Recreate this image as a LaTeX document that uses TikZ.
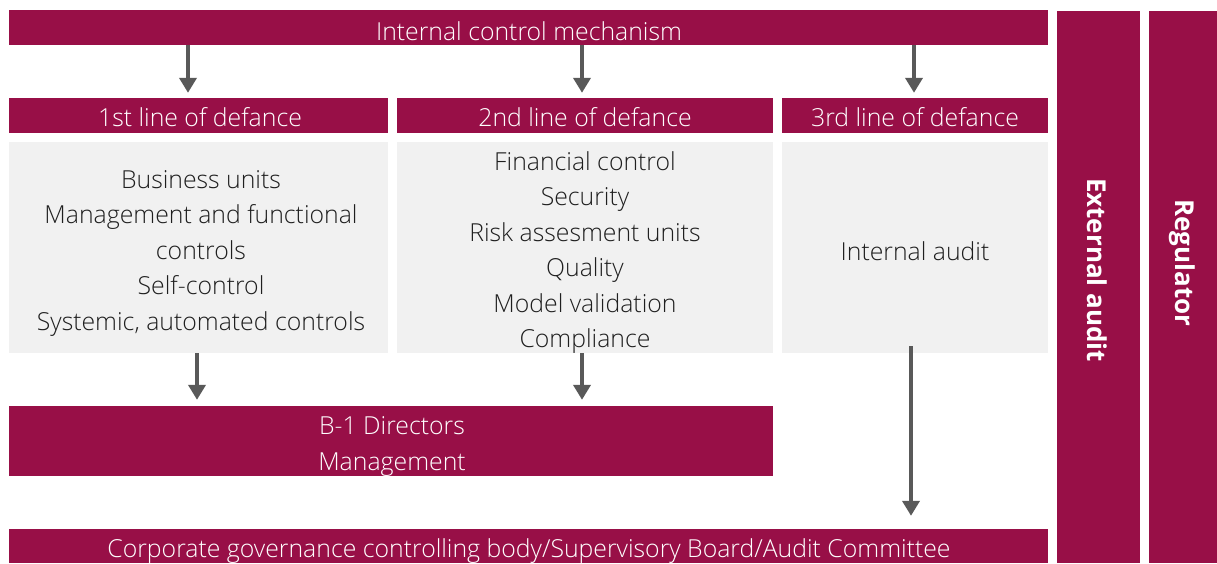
\documentclass[tikz,border=0pt]{standalone}
\usepackage{fontspec}
\IfFontExistsTF{Open Sans Light}{\setmainfont{Open Sans Light}[BoldFont={Open Sans Bold}]}{\setmainfont{Open Sans}}
\newfontfamily\labelfont{Open Sans}
\usetikzlibrary{arrows.meta}
\definecolor{maroon}{HTML}{980F47}
\definecolor{panel}{HTML}{F1F1F1}
\definecolor{arrowgray}{HTML}{595959}
\tikzset{
  bar/.style={fill=maroon, draw=none, inner sep=0pt},
  panelbox/.style={fill=panel, draw=none, inner sep=0pt},
  bartext/.style={text=white, inner sep=0pt, align=center,
    font=\fontsize{24.8}{36}\selectfont},
  paneltext/.style={text=black!88, inner sep=0pt, align=center,
    font=\fontsize{24.8}{35.5}\selectfont},
  sidelabel/.style={text=white, inner sep=0pt, rotate=-90,
    font=\labelfont\fontsize{26}{30}\selectfont\bfseries},
  flow/.style={draw=arrowgray, line width=4pt,
    -{Triangle[width=17pt,length=15pt]}},
}
\begin{document}
\begin{tikzpicture}[x=1pt,y=-1pt]
  \useasboundingbox (0,0) rectangle (1217,563);

  % top bar
  \node[bar, minimum width=1039pt, minimum height=35pt] (icm) at (528.5,27.5) {};
  \node[bartext] (icmt) at (529,31.5) {Internal control mechanism};

  % lines of defence headers
  \node[bar, minimum width=379pt, minimum height=35pt] (h1) at (198.5,115.5) {};
  \node[bar, minimum width=376pt, minimum height=35pt] (h2) at (585,115.5) {};
  \node[bar, minimum width=266pt, minimum height=35pt] (h3) at (915,115.5) {};
  \node[bartext] (h1t) at (200,117.5) {1st line of defance};
  \node[bartext] (h2t) at (585,117.5) {2nd line of defance};
  \node[bartext] (h3t) at (915,117.5) {3rd line of defance};

  % content panels
  \node[panelbox, minimum width=379pt, minimum height=211pt] (p1) at (198.5,247.5) {};
  \node[panelbox, minimum width=376pt, minimum height=211pt] (p2) at (585,247.5) {};
  \node[panelbox, minimum width=266pt, minimum height=211pt] (p3) at (915,247.5) {};
  \node[paneltext] (t1) at (201,253)
    {Business units\\Management and functional\\controls\\Self-control\\Systemic, automated controls};
  \node[paneltext] (t2) at (585,252.5)
    {Financial control\\Security\\Risk assesment units\\Quality\\Model validation\\Compliance};
  \node[paneltext] (t3) at (915,251)
    {Internal audit};

  % management and supervisory body
  \node[bar, minimum width=764pt, minimum height=70pt] (mgmt) at (391,441) {};
  \node[bartext] (mgmtt) at (392,446.5) {B-1 Directors\\Management};
  \node[bar, minimum width=1039pt, minimum height=34pt] (board) at (528.5,546) {};
  \node[bartext] (boardt) at (529,551)
    {Corporate governance controlling body/Supervisory Board/Audit Committee};

  % external columns
  \node[bar, minimum width=83pt, minimum height=552pt] (ext) at (1098.5,287) {};
  \node[bar, minimum width=68pt, minimum height=552pt] (reg) at (1183,287) {};
  \node[sidelabel] (extl) at (1097,270) {External audit};
  \node[sidelabel] (regl) at (1182,263) {Regulator};

  % arrows
  \coordinate (a1) at (188,0);
  \coordinate (a2) at (582,0);
  \coordinate (a3) at (914,0);
  \draw[flow] (icm.south -| a1) -- ([yshift=5pt]h1.north -| a1);
  \draw[flow] (icm.south -| a2) -- ([yshift=5pt]h2.north -| a2);
  \draw[flow] (icm.south -| a3) -- ([yshift=5pt]h3.north -| a3);

  \coordinate (b1) at (197,0);
  \coordinate (b2) at (582,0);
  \coordinate (b3) at (911,0);
  \draw[flow] (p1.south -| b1) -- ([yshift=6pt]mgmt.north -| b1);
  \draw[flow] (p2.south -| b2) -- ([yshift=6pt]mgmt.north -| b2);
  \draw[flow] ([yshift=7pt]p3.south -| b3) -- ([yshift=13pt]board.north -| b3);
\end{tikzpicture}
\end{document}
